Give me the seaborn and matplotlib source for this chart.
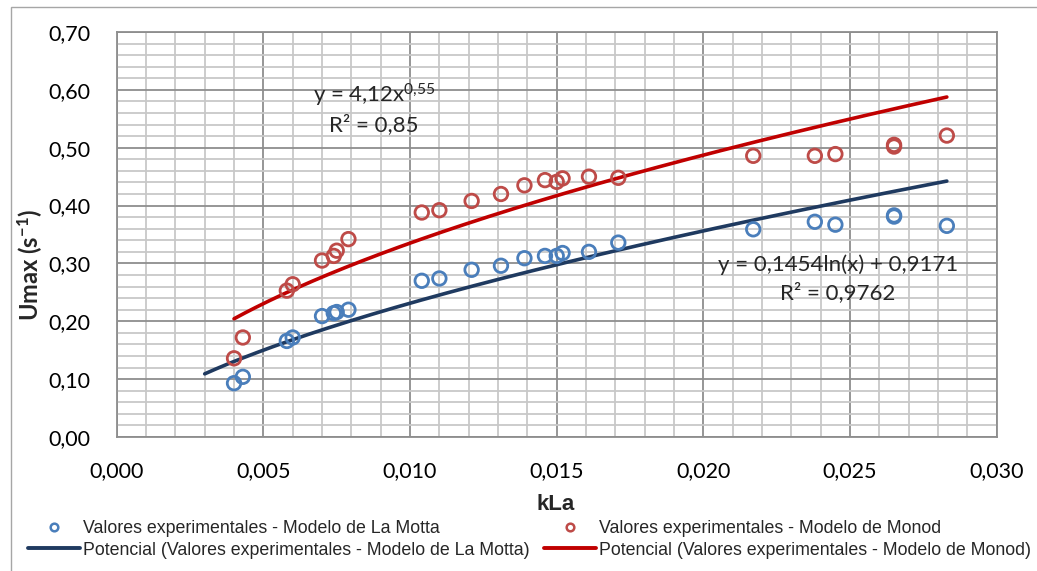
import numpy as np
import pandas as pd
import matplotlib
matplotlib.use("Agg")
import matplotlib.pyplot as plt
from matplotlib.lines import Line2D
from matplotlib.patches import Rectangle
from matplotlib.ticker import MultipleLocator, FuncFormatter
import seaborn as sns

# ---------------- data ----------------
kla = [0.0040, 0.0043, 0.0058, 0.0060, 0.0070, 0.0074, 0.0075, 0.0079,
       0.0104, 0.0110, 0.0121, 0.0131, 0.0139, 0.0146, 0.0150, 0.0152,
       0.0161, 0.0171, 0.0217, 0.0238, 0.0245, 0.0265, 0.0265, 0.0283]
umax_lamotta = [0.093, 0.104, 0.166, 0.172, 0.209, 0.214, 0.216, 0.220,
                0.270, 0.274, 0.289, 0.296, 0.309, 0.313, 0.313, 0.318,
                0.320, 0.336, 0.359, 0.372, 0.367, 0.381, 0.383, 0.365]
umax_monod = [0.136, 0.172, 0.253, 0.264, 0.305, 0.313, 0.322, 0.342,
              0.388, 0.392, 0.408, 0.420, 0.435, 0.444, 0.441, 0.447,
              0.450, 0.448, 0.486, 0.486, 0.489, 0.505, 0.502, 0.521]
label_lamotta = "Valores experimentales - Modelo de La Motta"
label_monod = "Valores experimentales - Modelo de Monod"
trend_lamotta = "Potencial (Valores experimentales - Modelo de La Motta)"
trend_monod = "Potencial (Valores experimentales - Modelo de Monod)"
eq_monod = ["y = 4,12x$^{0{,}55}$", "R² = 0,85"]
eq_lamotta = ["y = 0,1454ln(x) + 0,9171", "R² = 0,9762"]
backward_forecast_lamotta = 0.001

# ---------------- style ----------------
sns.set_theme(style="white")
plt.rcParams["font.family"] = ["Lato", "DejaVu Sans"]
plt.rcParams["mathtext.fontset"] = "custom"
plt.rcParams["mathtext.rm"] = "Lato"
plt.rcParams["mathtext.it"] = "Lato"
plt.rcParams["mathtext.bf"] = "Lato:bold"

C_BLUE_PT = "#4A7EBB"
C_RED_PT = "#BE4B48"
C_BLUE_LN = "#1F3A60"
C_RED_LN = "#C00000"

fig = plt.figure(figsize=(10.37, 5.71), dpi=100)
ax = fig.add_axes([116.7 / 1037, 1 - 437 / 571, (996.7 - 116.7) / 1037, (437 - 32) / 571])

df = pd.DataFrame({"kLa": kla, "LaMotta": umax_lamotta, "Monod": umax_monod})

# power trendlines fitted to the data (log-log least squares, like Excel)
def power_fit(x, y):
    b, ln_a = np.polyfit(np.log(x), np.log(y), 1)
    return np.exp(ln_a), b

a_b, b_b = power_fit(df["kLa"], df["LaMotta"])
a_r, b_r = power_fit(df["kLa"], df["Monod"])
xb = np.linspace(df["kLa"].min() - backward_forecast_lamotta, df["kLa"].max(), 200)
xr = np.linspace(df["kLa"].min(), df["kLa"].max(), 200)

sns.lineplot(x=xb, y=a_b * xb ** b_b, ax=ax, color=C_BLUE_LN, lw=2.6, zorder=3)
sns.lineplot(x=xr, y=a_r * xr ** b_r, ax=ax, color=C_RED_LN, lw=2.6, zorder=3)

sns.scatterplot(data=df, x="kLa", y="LaMotta", ax=ax, marker="o", s=95,
                facecolor="none", edgecolor=C_BLUE_PT, linewidth=2.0, zorder=4)
sns.scatterplot(data=df, x="kLa", y="Monod", ax=ax, marker="o", s=95,
                facecolor="none", edgecolor=C_RED_PT, linewidth=2.0, zorder=4)

ax.set_xlim(0, 0.030)
ax.set_ylim(0, 0.70)
ax.xaxis.set_major_locator(MultipleLocator(0.005))
ax.xaxis.set_minor_locator(MultipleLocator(0.001))
ax.yaxis.set_major_locator(MultipleLocator(0.1))
ax.yaxis.set_minor_locator(MultipleLocator(0.02))
ax.xaxis.set_major_formatter(FuncFormatter(lambda v, p: f"{v:.3f}".replace(".", ",")))
ax.yaxis.set_major_formatter(FuncFormatter(lambda v, p: f"{v:.2f}".replace(".", ",")))
ax.grid(which="minor", color="#C8C8C8", lw=1.3, zorder=0)
ax.grid(which="major", color="#8E8E8E", lw=1.3, zorder=1)
ax.set_axisbelow(True)
for s in ax.spines.values():
    s.set_color("#8E8E8E")
    s.set_linewidth(1.3)
ax.tick_params(which="both", length=0)
ax.tick_params(axis="y", pad=19, labelsize=15.5, labelcolor="#000000")
ax.tick_params(axis="x", pad=17, labelsize=15.5, labelcolor="#000000")
ax.set_xlabel("")
ax.set_ylabel("")

fig.text(30 / 1037, 1 - 265 / 571, r"Umax (s$^{\mathbf{-1}}$)", rotation=90,
         ha="center", va="center", fontsize=17, fontweight="bold")
fig.text(556 / 1037, 1 - 505 / 571, "kLa", ha="center", va="center",
         fontsize=16, fontweight="bold", family=["Liberation Sans", "DejaVu Sans"])

# equations
fig.text(374 / 1037, 1 - 95 / 571, eq_monod[0], ha="center", va="center", fontsize=16)
fig.text(374 / 1037, 1 - 125 / 571, eq_monod[1], ha="center", va="center", fontsize=16)
fig.text(838 / 1037, 1 - 265 / 571, eq_lamotta[0], ha="center", va="center", fontsize=16)
fig.text(838 / 1037, 1 - 293 / 571, eq_lamotta[1], ha="center", va="center", fontsize=16)

# legend
handles = [
    Line2D([], [], ls="none", marker="o", ms=5.5, mfc="none", mec=C_BLUE_PT, mew=1.8),
    Line2D([], [], color=C_BLUE_LN, lw=2.8),
    Line2D([], [], ls="none", marker="o", ms=5.5, mfc="none", mec=C_RED_PT, mew=1.8),
    Line2D([], [], color=C_RED_LN, lw=2.8),
]
labels = [label_lamotta, trend_lamotta, label_monod, trend_monod]
fig.legend(handles, labels, ncol=2, loc="upper left",
           bbox_to_anchor=(28 / 1037, 1 - 520 / 571), frameon=False,
           prop={"family": ["Liberation Sans", "DejaVu Sans"], "size": 12.8},
           handlelength=2.9, handletextpad=0.17, columnspacing=0.85,
           labelspacing=0.26, borderpad=0, borderaxespad=0)

# outer chart border
fig.patches.append(Rectangle((11 / 1037, -0.1), 1.2, 1 - 7 / 571 + 0.1,
                             transform=fig.transFigure, fill=False,
                             edgecolor="#A6A6A6", lw=1.0, zorder=-1))

fig.savefig("out.png", dpi=100)
